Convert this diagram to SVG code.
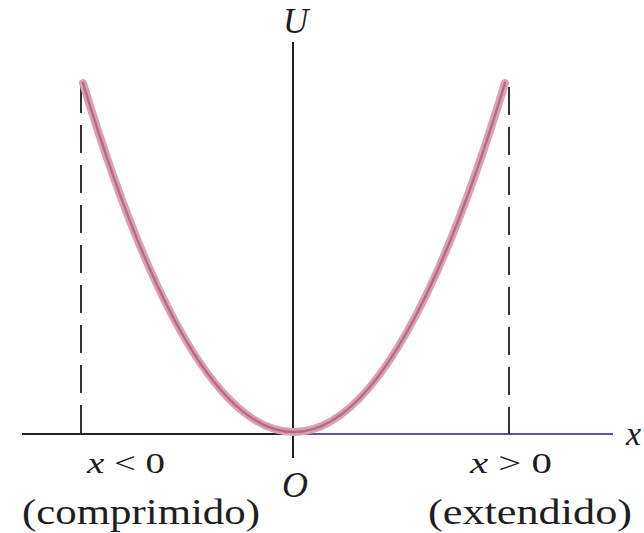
<svg xmlns="http://www.w3.org/2000/svg" width="644" height="533" viewBox="0 0 644 533">
<style>
.ax{stroke:#222;stroke-width:2;fill:none}
.dash{stroke:#333;stroke-width:2;stroke-dasharray:28 12;fill:none}
</style>
<rect width="644" height="533" fill="#ffffff"/>
<g id="connectors">
<line class="ax" x1="22" y1="434" x2="300" y2="434"/>
<line x1="300" y1="434" x2="613" y2="434" stroke="#5b52a6" stroke-width="2"/>
<line class="ax" x1="293" y1="42" x2="293" y2="458"/>
<line class="dash" x1="81" y1="85" x2="81" y2="434"/>
<line class="dash" x1="509" y1="87" x2="509" y2="434"/>
</g>
<g id="curve">
<path d="M83,83 Q294,781 505,83" fill="none" stroke="#dba0b4" stroke-width="8" stroke-linecap="round"/>
<path d="M83,83 Q294,781 505,83" fill="none" stroke="#a8587a" stroke-width="2.5" stroke-linecap="round" opacity="0.75"/>
</g>
<g id="labels" font-family="Liberation Serif, serif" fill="#1e1e1e">
<text font-style="italic" x="283" y="33" font-size="35">U</text>
<text font-style="italic" x="626" y="445" font-size="34">x</text>
<text font-style="italic" x="282" y="497" font-size="36">O</text>
<text x="87" y="473" font-size="30" textLength="78" lengthAdjust="spacingAndGlyphs"><tspan font-style="italic">x</tspan> &lt; 0</text>
<text x="470" y="473" font-size="30" textLength="82" lengthAdjust="spacingAndGlyphs"><tspan font-style="italic">x</tspan> &gt; 0</text>
<text x="22" y="524" font-size="35" textLength="238" lengthAdjust="spacingAndGlyphs">(comprimido)</text>
<text x="428" y="524" font-size="35" textLength="204" lengthAdjust="spacingAndGlyphs">(extendido)</text>
</g>
</svg>
